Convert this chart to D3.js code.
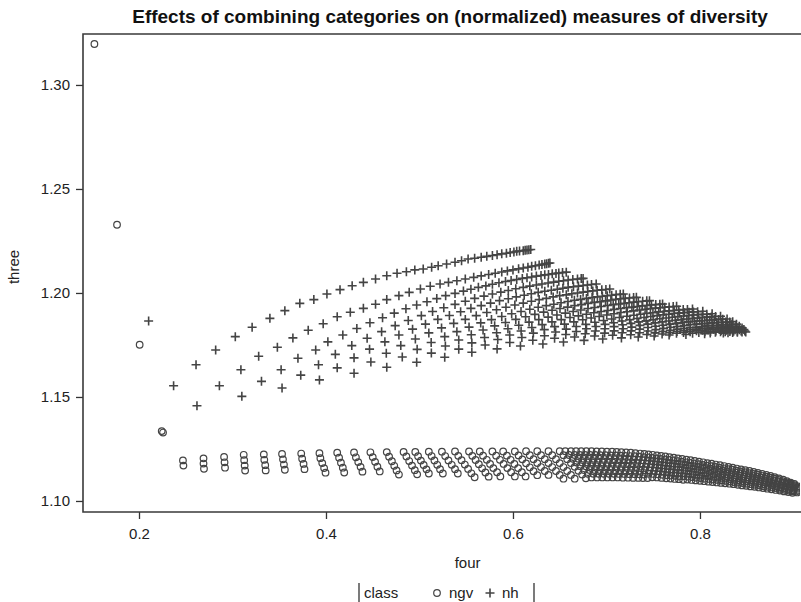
<!DOCTYPE html>
<html>
<head>
<meta charset="utf-8">
<script src="https://cdn.jsdelivr.net/npm/d3@7"></script>
<style>
  body { margin: 0; background: #fff; }
  text { font-family: "Liberation Sans", Arial, sans-serif; fill: #222; }
</style>
</head>
<body>
<svg width="801" height="602"></svg>
<script>
// ---- data: [four, three] ----
var xTicks = [0.2, 0.4, 0.6, 0.8];
var yTicks = [1.10, 1.15, 1.20, 1.25, 1.30];

// class = nh (plus markers), read curve by curve
var nhLone = [[0.2103,1.1865]];
var nhA = [[0.237,1.1554],[0.261,1.1655],[0.282,1.1726],[0.303,1.1790],[0.321,1.1835],[0.340,1.1878],[0.356,1.1915],[0.372,1.1950],[0.387,1.1968],[0.401,1.1995],[0.415,1.2016],[0.428,1.2035],[0.440,1.2051],[0.453,1.2067],[0.465,1.2083],[0.476,1.2095],[0.486,1.2102],[0.495,1.2111],[0.504,1.2115],[0.513,1.2124],[0.520,1.2131],[0.529,1.2139],[0.538,1.2148],[0.545,1.2155],[0.552,1.2163],[0.559,1.2167],[0.566,1.2172],[0.572,1.2176],[0.578,1.2180],[0.583,1.2184],[0.588,1.2188],[0.593,1.2191],[0.597,1.2194],[0.601,1.2197],[0.604,1.2200],[0.607,1.2202],[0.611,1.2203],[0.613,1.2205],[0.615,1.2207],[0.617,1.2208],[0.619,1.2209]];
var nhB = [[0.262,1.1458],[0.286,1.1554],[0.309,1.1631],[0.328,1.1696],[0.348,1.1739],[0.3646,1.1784],[0.381,1.1821],[0.397,1.1852],[0.412,1.1886],[0.426,1.1907],[0.440,1.1926],[0.453,1.1946],[0.465,1.1968],[0.478,1.1987],[0.489,1.2003],[0.501,1.2019],[0.5115,1.2032],[0.522,1.2043],[0.531,1.2051],[0.540,1.2059],[0.549,1.2067],[0.558,1.2075],[0.566,1.2082],[0.574,1.2089],[0.581,1.2095],[0.588,1.2101],[0.594,1.2106],[0.600,1.2111],[0.606,1.2116],[0.611,1.2120],[0.616,1.2124],[0.620,1.2128],[0.624,1.2131],[0.628,1.2134],[0.631,1.2137],[0.634,1.2139],[0.636,1.2141],[0.638,1.2143],[0.6395,1.2144]];
var nhC = [[0.310,1.1503],[0.331,1.1575],[0.352,1.1631],[0.370,1.1686],[0.389,1.1726],[0.402,1.1765],[0.418,1.1798],[0.433,1.1829],[0.447,1.1857],[0.4605,1.1881],[0.473,1.1903],[0.4855,1.1924],[0.497,1.1942],[0.508,1.1958],[0.5185,1.1973],[0.528,1.1987],[0.538,1.1998],[0.547,1.2009],[0.555,1.2018],[0.563,1.2027],[0.571,1.2034],[0.578,1.2042],[0.585,1.2049],[0.592,1.2055],[0.598,1.2060],[0.604,1.2065],[0.610,1.2070],[0.615,1.2073],[0.620,1.2077],[0.625,1.2081],[0.630,1.2084],[0.634,1.2087],[0.638,1.2089],[0.642,1.2092],[0.646,1.2094],[0.649,1.2096],[0.653,1.2098],[0.657,1.2100]];
var nhD = [[0.353,1.1543],[0.373,1.1605],[0.392,1.1655],[0.410,1.1705],[0.4276,1.1747],[0.444,1.1782],[0.4595,1.1814],[0.474,1.1843],[0.488,1.1868],[0.502,1.1891],[0.514,1.1911],[0.526,1.1929],[0.538,1.1945],[0.549,1.1960],[0.559,1.1974],[0.569,1.1985],[0.578,1.1995],[0.587,1.2004],[0.595,1.2012],[0.603,1.2020],[0.611,1.2027],[0.618,1.2033],[0.625,1.2038],[0.631,1.2043],[0.6376,1.2048],[0.6435,1.2052],[0.649,1.2056],[0.654,1.2059],[0.659,1.2062],[0.664,1.2065],[0.669,1.2067],[0.673,1.2069],[0.675,1.2070]];
var nhE = [[0.393,1.1582],[0.412,1.1640],[0.430,1.1688],[0.4466,1.1730],[0.463,1.1765],[0.478,1.1798],[0.4926,1.1826],[0.5064,1.1850],[0.5196,1.1873],[0.532,1.1892],[0.544,1.1910],[0.555,1.1926],[0.566,1.1939],[0.576,1.1951],[0.5856,1.1963],[0.595,1.1972],[0.6035,1.1981],[0.612,1.1989],[0.6196,1.1996],[0.627,1.2003],[0.634,1.2008],[0.641,1.2013],[0.6474,1.2018],[0.6534,1.2023],[0.659,1.2027],[0.6647,1.2030],[0.670,1.2033],[0.675,1.2036],[0.6796,1.2038],[0.684,1.2041],[0.689,1.2043]];
var nhF = [[0.430,1.1614],[0.448,1.1668],[0.4645,1.1710],[0.480,1.1747],[0.4956,1.1779],[0.510,1.1808],[0.5236,1.1832],[0.5366,1.1854],[0.549,1.1873],[0.5607,1.1891],[0.572,1.1906],[0.5824,1.1919],[0.5925,1.1931],[0.602,1.1942],[0.611,1.1951],[0.6197,1.1960],[0.628,1.1968],[0.6357,1.1974],[0.643,1.1981],[0.650,1.1987],[0.657,1.1991],[0.663,1.1996],[0.669,1.2000],[0.675,1.2004],[0.680,1.2007],[0.6854,1.2010],[0.690,1.2013],[0.695,1.2015],[0.6994,1.2017],[0.7035,1.2019]];
var nhG = [[0.465,1.1643],[0.4816,1.1692],[0.4975,1.1729],[0.5125,1.1762],[0.527,1.1790],[0.540,1.1814],[0.553,1.1836],[0.5655,1.1856],[0.577,1.1872],[0.588,1.1887],[0.5986,1.1900],[0.6086,1.1911],[0.618,1.1922],[0.627,1.1931],[0.6356,1.1939],[0.6437,1.1946],[0.6514,1.1953],[0.6588,1.1959],[0.6657,1.1965],[0.6723,1.1969],[0.6786,1.1974],[0.6846,1.1978],[0.6903,1.1981],[0.6956,1.1984],[0.7008,1.1987],[0.7056,1.1989],[0.7103,1.1992],[0.7147,1.1994],[0.718,1.1995]];
var nhH = [[0.497,1.1667],[0.5127,1.1711],[0.5277,1.1745],[0.542,1.1774],[0.5554,1.1799],[0.568,1.1822],[0.5804,1.1842],[0.592,1.1858],[0.603,1.1873],[0.6135,1.1886],[0.6234,1.1897],[0.6328,1.1908],[0.6418,1.1917],[0.6503,1.1925],[0.6584,1.1932],[0.666,1.1939],[0.6734,1.1944],[0.6803,1.1950],[0.6869,1.1955],[0.6931,1.1958],[0.699,1.1962],[0.7047,1.1966],[0.710,1.1969],[0.7152,1.1972],[0.720,1.1974],[0.7246,1.1976],[0.729,1.1978],[0.732,1.1979]];
var nhI = [[0.527,1.1691],[0.542,1.1730],[0.556,1.1760],[0.5696,1.1786],[0.5825,1.1809],[0.5946,1.1828],[0.6062,1.1845],[0.6172,1.1860],[0.6276,1.1872],[0.6376,1.1884],[0.647,1.1894],[0.656,1.1903],[0.6644,1.1911],[0.6725,1.1918],[0.6802,1.1925],[0.6875,1.1930],[0.6944,1.1935],[0.701,1.1940],[0.7072,1.1944],[0.7132,1.1947],[0.7188,1.1950],[0.7242,1.1953],[0.7293,1.1956],[0.7341,1.1958],[0.7387,1.1960],[0.7431,1.1962],[0.746,1.1963]];
var nhJ = [[0.556,1.1715],[0.5702,1.1750],[0.5837,1.1776],[0.5965,1.1798],[0.6087,1.1817],[0.6202,1.1834],[0.6312,1.1848],[0.6417,1.1861],[0.6516,1.1872],[0.661,1.1882],[0.670,1.1890],[0.6785,1.1898],[0.6865,1.1905],[0.6942,1.1911],[0.7015,1.1916],[0.7084,1.1921],[0.715,1.1925],[0.7213,1.1929],[0.7272,1.1932],[0.7328,1.1935],[0.7382,1.1938],[0.7433,1.1940],[0.7481,1.1942],[0.7527,1.1944],[0.7571,1.1946],[0.760,1.1947]];
var nhK = [[0.583,1.1731],[0.5966,1.1762],[0.6095,1.1786],[0.6218,1.1807],[0.6335,1.1824],[0.6445,1.1838],[0.6551,1.1850],[0.6651,1.1861],[0.6746,1.1871],[0.6836,1.1880],[0.6922,1.1887],[0.7003,1.1894],[0.708,1.1900],[0.7154,1.1906],[0.7223,1.1910],[0.729,1.1914],[0.7353,1.1918],[0.7413,1.1922],[0.747,1.1925],[0.7524,1.1927],[0.7575,1.1929],[0.7624,1.1931],[0.767,1.1933],[0.7714,1.1935],[0.775,1.1936]];
var nhL = [[0.608,1.1745],[0.6212,1.1773],[0.6337,1.1794],[0.6456,1.1812],[0.657,1.1826],[0.6677,1.1839],[0.6779,1.1849],[0.6876,1.1859],[0.6969,1.1868],[0.7056,1.1875],[0.7139,1.1882],[0.7218,1.1888],[0.7293,1.1893],[0.7365,1.1898],[0.7432,1.1902],[0.7497,1.1905],[0.7558,1.1909],[0.7616,1.1911],[0.7671,1.1914],[0.7724,1.1916],[0.7774,1.1918],[0.7821,1.1920],[0.7866,1.1921],[0.792,1.1923]];
var nhM = [[0.632,1.1755],[0.6445,1.1782],[0.6565,1.1800],[0.6678,1.1815],[0.6786,1.1828],[0.6888,1.1839],[0.6985,1.1849],[0.7077,1.1857],[0.7165,1.1865],[0.7248,1.1871],[0.7327,1.1877],[0.7402,1.1882],[0.7474,1.1887],[0.7542,1.1891],[0.7606,1.1895],[0.7667,1.1898],[0.7725,1.1901],[0.7781,1.1903],[0.7833,1.1905],[0.7883,1.1907],[0.793,1.1909],[0.7975,1.1910],[0.803,1.1912]];
var nhN = [[0.654,1.1764],[0.6659,1.1788],[0.6773,1.1804],[0.6881,1.1817],[0.6983,1.1828],[0.7081,1.1838],[0.7173,1.1847],[0.7261,1.1854],[0.7344,1.1861],[0.7424,1.1866],[0.7499,1.1871],[0.7571,1.1876],[0.7638,1.1880],[0.7703,1.1883],[0.7764,1.1887],[0.7823,1.1889],[0.7878,1.1892],[0.7931,1.1894],[0.7981,1.1896],[0.8028,1.1897],[0.8073,1.1898],[0.813,1.1900]];
var nhO = [[0.676,1.1772],[0.6873,1.1793],[0.698,1.1807],[0.7082,1.1818],[0.7179,1.1828],[0.7271,1.1836],[0.7359,1.1844],[0.7442,1.1850],[0.7521,1.1856],[0.7596,1.1861],[0.7667,1.1865],[0.7735,1.1869],[0.7799,1.1872],[0.786,1.1875],[0.7918,1.1878],[0.7973,1.1880],[0.8025,1.1882],[0.8075,1.1884],[0.8122,1.1885],[0.8167,1.1887],[0.822,1.1888]];
var nhP = [[0.696,1.1779],[0.7066,1.1797],[0.7168,1.1809],[0.7264,1.1818],[0.7355,1.1826],[0.7442,1.1834],[0.7524,1.1840],[0.7603,1.1845],[0.7677,1.1850],[0.7748,1.1854],[0.7815,1.1858],[0.7878,1.1861],[0.7939,1.1864],[0.7997,1.1866],[0.8051,1.1868],[0.8103,1.1870],[0.8153,1.1872],[0.820,1.1873],[0.8244,1.1874],[0.829,1.1875]];
var nhQ = [[0.716,1.1784],[0.7259,1.1799],[0.7354,1.1809],[0.7444,1.1817],[0.7529,1.1824],[0.761,1.1830],[0.7687,1.1835],[0.776,1.1839],[0.783,1.1843],[0.7896,1.1847],[0.7959,1.1850],[0.8018,1.1852],[0.8075,1.1854],[0.8129,1.1856],[0.8179,1.1858],[0.8228,1.1859],[0.8274,1.1860],[0.8318,1.1861],[0.835,1.1862]];
var nhR = [[0.734,1.1788],[0.7432,1.1800],[0.752,1.1808],[0.7604,1.1815],[0.7683,1.1821],[0.7758,1.1826],[0.783,1.1830],[0.7898,1.1833],[0.7963,1.1836],[0.8024,1.1839],[0.8082,1.1842],[0.8138,1.1843],[0.819,1.1845],[0.824,1.1847],[0.8288,1.1848],[0.8333,1.1849],[0.839,1.1850]];
var nhS = [[0.751,1.1793],[0.7595,1.1803],[0.7677,1.1809],[0.7754,1.1815],[0.7827,1.1819],[0.7897,1.1823],[0.7963,1.1826],[0.8026,1.1829],[0.8086,1.1831],[0.8142,1.1833],[0.8196,1.1835],[0.8247,1.1836],[0.8296,1.1838],[0.8342,1.1839],[0.8386,1.1839],[0.842,1.1840]];
var nhT = [[0.767,1.1798],[0.7749,1.1806],[0.7824,1.1810],[0.7895,1.1814],[0.7963,1.1818],[0.8027,1.1821],[0.8089,1.1823],[0.8147,1.1825],[0.8202,1.1827],[0.8254,1.1828],[0.8304,1.1829],[0.8351,1.1830],[0.8396,1.1831],[0.845,1.1832]];
var nhU = [[0.785,1.1800],[0.7921,1.1806],[0.7988,1.1810],[0.8052,1.1813],[0.8113,1.1815],[0.8171,1.1817],[0.8226,1.1819],[0.8278,1.1820],[0.8328,1.1822],[0.8375,1.1823],[0.842,1.1823],[0.847,1.1824]];
var nhV = [[0.805,1.1804],[0.811,1.1808],[0.8165,1.1811],[0.822,1.1813],[0.827,1.1814],[0.832,1.1815],[0.836,1.1816],[0.840,1.1816],[0.844,1.1817],[0.848,1.1817]];
var nhW = [[0.825,1.1807],[0.830,1.1809],[0.835,1.1810],[0.840,1.1811],[0.845,1.1812],[0.849,1.1812]];

// class = ngv (circle markers)
var ngvLead = [[0.1523,1.3197],[0.1765,1.2328],[0.2007,1.1751],[0.2243,1.1336],[0.2257,1.1329]];
var ngvLeft = [
  [0.247,1.1195],[0.2475,1.1170],
  [0.269,1.1205],[0.269,1.1180],[0.2695,1.1155],
  [0.291,1.1212],[0.2915,1.1186],[0.292,1.1160],
  [0.312,1.1222],[0.3125,1.1196],[0.313,1.1170],[0.3135,1.1146],
  [0.3335,1.1224],[0.334,1.1198],[0.335,1.1172],[0.3355,1.1147],
  [0.353,1.1226],[0.354,1.1200],[0.355,1.1175],[0.356,1.1150],
  [0.3735,1.1228],[0.3745,1.1203],[0.376,1.1178],[0.377,1.1153],
  [0.393,1.1230],[0.394,1.1206],[0.396,1.1182],[0.398,1.1158],[0.3995,1.1136],
  [0.412,1.1232],[0.414,1.1208],[0.416,1.1184],[0.418,1.1160],[0.4195,1.1137],
  [0.430,1.1233],[0.432,1.1210],[0.4345,1.1187],[0.437,1.1164],[0.439,1.1141],
  [0.4475,1.1234],[0.450,1.1211],[0.4525,1.1188],[0.455,1.1165],[0.4575,1.1142]
];
var ngvMid = [
  [0.465,1.1235],[0.4675,1.1213],[0.4705,1.1191],[0.473,1.1169],[0.4755,1.1147],[0.478,1.1127],
  [0.483,1.1236],[0.486,1.1214],[0.489,1.1192],[0.492,1.1170],[0.495,1.1148],[0.4975,1.1128],
  [0.4955,1.1236],[0.4985,1.1215],[0.5015,1.1194],[0.5045,1.1173],[0.5075,1.1152],[0.510,1.1132],
  [0.510,1.1237],[0.513,1.1216],[0.516,1.1195],[0.519,1.1174],[0.522,1.1153],[0.525,1.1132],
  [0.524,1.1237],[0.5275,1.1216],[0.531,1.1195],[0.5345,1.1174],[0.538,1.1153],[0.541,1.1132],
  [0.538,1.1238],[0.5415,1.1217],[0.545,1.1196],[0.5485,1.1175],[0.552,1.1154],[0.5555,1.1133],[0.559,1.1114],
  [0.553,1.1238],[0.5565,1.1217],[0.560,1.1197],[0.5635,1.1177],[0.567,1.1157],[0.5705,1.1137],[0.574,1.1117],
  [0.5645,1.1238],[0.568,1.1218],[0.572,1.1198],[0.5755,1.1178],[0.579,1.1158],[0.583,1.1138],[0.5865,1.1118],
  [0.578,1.1238],[0.582,1.1218],[0.586,1.1198],[0.590,1.1178],[0.594,1.1158],[0.598,1.1138],[0.602,1.1118],
  [0.5895,1.1238],[0.5935,1.1218],[0.5975,1.1198],[0.6015,1.1178],[0.6055,1.1158],[0.6095,1.1138],[0.6135,1.1118],
  [0.602,1.1238],[0.606,1.1219],[0.610,1.1200],[0.614,1.1181],[0.618,1.1162],[0.622,1.1143],[0.626,1.1124],
  [0.614,1.1239],[0.618,1.1220],[0.622,1.1201],[0.626,1.1182],[0.630,1.1163],[0.634,1.1144],[0.638,1.1125],
  [0.626,1.1239],[0.630,1.1220],[0.634,1.1201],[0.638,1.1182],[0.642,1.1163],[0.646,1.1144],[0.650,1.1125],[0.654,1.1107],
  [0.638,1.1239],[0.642,1.1220],[0.646,1.1201],[0.650,1.1182],[0.654,1.1163],[0.658,1.1144],[0.662,1.1125],[0.666,1.1107],
  [0.650,1.1239],[0.654,1.1220],[0.658,1.1201],[0.662,1.1182],[0.666,1.1164],[0.670,1.1145],[0.674,1.1127],[0.678,1.1109],
  [0.656,1.1239],[0.660,1.1221],[0.664,1.1203],[0.668,1.1185],[0.672,1.1167],[0.676,1.1149],[0.680,1.1131],[0.684,1.1113],
  [0.662,1.1239],[0.666,1.1221],[0.670,1.1203],[0.674,1.1185],[0.678,1.1167],[0.682,1.1149],[0.686,1.1131],[0.690,1.1113],
  [0.6675,1.1239],[0.6715,1.1221],[0.6755,1.1203],[0.6795,1.1185],[0.6835,1.1167],[0.6875,1.1149],[0.6915,1.1131],[0.6955,1.1113],
  [0.673,1.1239],[0.677,1.1221],[0.681,1.1203],[0.685,1.1185],[0.689,1.1167],[0.693,1.1149],[0.697,1.1131],[0.701,1.1113],
  [0.6785,1.1239],[0.6825,1.1221],[0.6865,1.1203],[0.6905,1.1185],[0.6945,1.1167],[0.6985,1.1149],[0.7025,1.1131],[0.7065,1.1113],
  [0.684,1.1239],[0.688,1.1221],[0.692,1.1203],[0.696,1.1185],[0.700,1.1167],[0.704,1.1149],[0.708,1.1131],[0.712,1.1113],
  [0.6895,1.1238],[0.6935,1.1220],[0.6975,1.1202],[0.7015,1.1184],[0.7055,1.1166],[0.7095,1.1148],[0.7135,1.1130],[0.7175,1.1112],
  [0.695,1.1238],[0.699,1.1220],[0.703,1.1202],[0.707,1.1184],[0.711,1.1166],[0.715,1.1148],[0.719,1.1130],[0.723,1.1112],
  [0.7005,1.1237],[0.7045,1.1219],[0.7085,1.1201],[0.7125,1.1183],[0.7165,1.1165],[0.7205,1.1147],[0.7245,1.1129],[0.7285,1.1111],
  [0.706,1.1237],[0.710,1.1219],[0.714,1.1201],[0.718,1.1183],[0.722,1.1165],[0.726,1.1147],[0.730,1.1129],[0.734,1.1111],
  [0.711,1.1236],[0.715,1.1218],[0.719,1.1200],[0.723,1.1182],[0.727,1.1164],[0.731,1.1146],[0.735,1.1128],[0.739,1.1110],
  [0.716,1.1235],[0.720,1.1217],[0.724,1.1199],[0.728,1.1181],[0.732,1.1163],[0.736,1.1145],[0.740,1.1127],[0.744,1.1110],
  [0.721,1.1233],[0.725,1.1216],[0.729,1.1199],[0.733,1.1182],[0.737,1.1165],[0.741,1.1148],[0.745,1.1131],[0.749,1.1114],
  [0.726,1.1232],[0.730,1.1215],[0.734,1.1198],[0.738,1.1181],[0.742,1.1164],[0.746,1.1147],[0.750,1.1130],[0.754,1.1113],
  [0.731,1.1230],[0.735,1.1213],[0.739,1.1196],[0.743,1.1179],[0.747,1.1162],[0.751,1.1145],[0.755,1.1128],[0.759,1.1111]
];
var ngvRight = [
  [0.736,1.1228],[0.740,1.1211],[0.744,1.1194],[0.748,1.1177],[0.752,1.1160],[0.756,1.1143],[0.760,1.1126],[0.764,1.1109],
  [0.7405,1.1226],[0.7445,1.1209],[0.7485,1.1192],[0.7525,1.1175],[0.7565,1.1158],[0.7605,1.1141],[0.7645,1.1124],[0.7685,1.1108],
  [0.745,1.1224],[0.749,1.1207],[0.753,1.1190],[0.757,1.1173],[0.761,1.1156],[0.765,1.1139],[0.769,1.1122],[0.773,1.1106],
  [0.7495,1.1222],[0.7535,1.1205],[0.7575,1.1188],[0.7615,1.1171],[0.7655,1.1154],[0.7695,1.1137],[0.7735,1.1121],[0.7775,1.1105],
  [0.754,1.1219],[0.758,1.1202],[0.762,1.1185],[0.766,1.1168],[0.770,1.1151],[0.774,1.1134],[0.778,1.1118],[0.782,1.1102],
  [0.7585,1.1217],[0.7625,1.1200],[0.7665,1.1183],[0.7705,1.1167],[0.7745,1.1151],[0.7785,1.1135],[0.7825,1.1119],[0.7865,1.1103],
  [0.763,1.1214],[0.767,1.1197],[0.771,1.1181],[0.775,1.1165],[0.779,1.1149],[0.783,1.1133],[0.787,1.1117],[0.791,1.1101],
  [0.7675,1.1211],[0.7715,1.1195],[0.7755,1.1179],[0.7795,1.1163],[0.7835,1.1147],[0.7875,1.1131],[0.7915,1.1115],[0.7955,1.1099],
  [0.772,1.1208],[0.776,1.1192],[0.780,1.1176],[0.784,1.1160],[0.788,1.1144],[0.792,1.1128],[0.796,1.1112],[0.800,1.1097],
  [0.7765,1.1205],[0.7805,1.1189],[0.7845,1.1173],[0.7885,1.1157],[0.7925,1.1141],[0.7965,1.1125],[0.8005,1.1110],[0.8045,1.1095],
  [0.781,1.1202],[0.785,1.1186],[0.789,1.1170],[0.793,1.1154],[0.797,1.1138],[0.801,1.1122],[0.805,1.1107],[0.809,1.1093],
  [0.7855,1.1199],[0.7895,1.1183],[0.7935,1.1167],[0.7975,1.1151],[0.8015,1.1136],[0.8055,1.1121],[0.8095,1.1106],[0.8135,1.1091],
  [0.790,1.1196],[0.794,1.1180],[0.798,1.1164],[0.802,1.1148],[0.806,1.1133],[0.810,1.1118],[0.814,1.1103],[0.818,1.1089],
  [0.7945,1.1193],[0.7985,1.1177],[0.8025,1.1161],[0.8065,1.1146],[0.8105,1.1131],[0.8145,1.1116],[0.8185,1.1101],[0.8225,1.1087],
  [0.799,1.1189],[0.803,1.1173],[0.807,1.1158],[0.811,1.1143],[0.815,1.1128],[0.819,1.1113],[0.823,1.1099],[0.827,1.1085],
  [0.8035,1.1186],[0.8075,1.1170],[0.8115,1.1155],[0.8155,1.1140],[0.8195,1.1125],[0.8235,1.1111],[0.8275,1.1097],[0.8315,1.1083],
  [0.808,1.1182],[0.812,1.1167],[0.816,1.1152],[0.820,1.1137],[0.824,1.1122],[0.828,1.1108],[0.832,1.1094],[0.836,1.1081],
  [0.8125,1.1179],[0.8165,1.1164],[0.8205,1.1149],[0.8245,1.1134],[0.8285,1.1119],[0.8325,1.1105],[0.8365,1.1091],[0.8405,1.1078],
  [0.817,1.1175],[0.821,1.1160],[0.825,1.1145],[0.829,1.1130],[0.833,1.1116],[0.837,1.1102],[0.841,1.1088],[0.845,1.1075],
  [0.8215,1.1172],[0.8255,1.1157],[0.8295,1.1142],[0.8335,1.1127],[0.8375,1.1113],[0.8415,1.1099],[0.8455,1.1086],[0.8495,1.1073],
  [0.826,1.1168],[0.830,1.1153],[0.834,1.1138],[0.838,1.1124],[0.842,1.1110],[0.846,1.1096],[0.850,1.1083],[0.854,1.1070],
  [0.8305,1.1164],[0.8345,1.1150],[0.8385,1.1136],[0.8425,1.1122],[0.8465,1.1108],[0.8505,1.1094],[0.8545,1.1081],[0.8585,1.1068],
  [0.835,1.1160],[0.839,1.1146],[0.843,1.1132],[0.847,1.1118],[0.851,1.1104],[0.855,1.1091],[0.859,1.1078],[0.863,1.1065],
  [0.8395,1.1156],[0.8435,1.1142],[0.8475,1.1128],[0.8515,1.1114],[0.8555,1.1101],[0.8595,1.1088],[0.8635,1.1075],[0.8675,1.1062],
  [0.844,1.1152],[0.848,1.1138],[0.852,1.1124],[0.856,1.1110],[0.860,1.1097],[0.864,1.1084],[0.868,1.1071],[0.872,1.1059],
  [0.8485,1.1148],[0.8525,1.1134],[0.8565,1.1120],[0.8605,1.1107],[0.8645,1.1094],[0.8685,1.1081],[0.8725,1.1068],[0.8765,1.1056],
  [0.853,1.1144],[0.857,1.1130],[0.861,1.1116],[0.865,1.1103],[0.869,1.1090],[0.873,1.1077],[0.877,1.1065],[0.881,1.1053],
  [0.8575,1.1140],[0.8615,1.1126],[0.8655,1.1112],[0.8695,1.1099],[0.8735,1.1086],[0.8775,1.1074],[0.8815,1.1062],[0.8855,1.1050],
  [0.862,1.1135],[0.866,1.1121],[0.870,1.1108],[0.874,1.1095],[0.878,1.1082],[0.882,1.1070],[0.886,1.1058],[0.890,1.1046],
  [0.8665,1.1130],[0.8705,1.1117],[0.8745,1.1104],[0.8785,1.1091],[0.8825,1.1078],[0.8865,1.1066],[0.8905,1.1054],[0.8945,1.1043],
  [0.871,1.1125],[0.875,1.1112],[0.879,1.1099],[0.883,1.1086],[0.887,1.1074],[0.891,1.1062],[0.895,1.1050],[0.899,1.1039],
  [0.8755,1.1120],[0.8795,1.1107],[0.8835,1.1094],[0.8875,1.1081],[0.8915,1.1069],[0.8955,1.1057],[0.8995,1.1046],
  [0.880,1.1114],[0.884,1.1101],[0.888,1.1088],[0.892,1.1076],[0.896,1.1064],[0.900,1.1052],[0.904,1.1041],
  [0.8845,1.1108],[0.8885,1.1095],[0.8925,1.1083],[0.8965,1.1071],[0.9005,1.1059],[0.9045,1.1048],
  [0.889,1.1102],[0.893,1.1089],[0.897,1.1077],[0.901,1.1065],[0.905,1.1053],
  [0.893,1.1095],[0.897,1.1083],[0.901,1.1071],[0.905,1.1059],
  [0.897,1.1088],[0.901,1.1076],[0.905,1.1064],
  [0.901,1.1082],[0.905,1.1070]
];

var nhAll = [].concat(nhLone, nhA, nhB, nhC, nhD, nhE, nhF, nhG, nhH, nhI, nhJ, nhK, nhL,
  nhM, nhN, nhO, nhP, nhQ, nhR, nhS, nhT, nhU, nhV, nhW);
var ngvAll = [].concat(ngvLead, ngvLeft, ngvMid, ngvRight);

// ---- layout ----
var svg = d3.select("svg"),
  margin = {top: 34, right: 1, bottom: 90, left: 83},
  width = +svg.attr("width") - margin.left - margin.right,
  height = +svg.attr("height") - margin.top - margin.bottom,
  g = svg.append("g").attr("transform", "translate(" + margin.left + "," + margin.top + ")");

var markColor = "#444";

var x = d3.scaleLinear()
  .domain([0.1401, 0.9070])
  .range([0, width]);

var y = d3.scaleLinear()
  .domain([1.0947, 1.3245])
  .range([height, 0]);

svg.append("text")
  .attr("x", 450)
  .attr("y", 23)
  .attr("text-anchor", "middle")
  .style("font-size", "19px")
  .style("font-weight", "bold")
  .style("fill", "#111")
  .text("Effects of combining categories on (normalized) measures of diversity");

// axes
var xAxis = g.append("g")
  .attr("transform", "translate(0," + height + ")")
  .call(d3.axisBottom(x).tickValues(xTicks).tickFormat(d3.format(".1f")).tickSize(7).tickPadding(9));

var yAxis = g.append("g")
  .call(d3.axisLeft(y).tickValues(yTicks).tickFormat(d3.format(".2f")).tickSize(7).tickPadding(6));

[xAxis, yAxis].forEach(function (a) {
  a.select(".domain").remove();
  a.selectAll(".tick line").attr("stroke", "#333").attr("stroke-width", 1.3);
  a.selectAll(".tick text").style("font-size", "15px").style("font-family", "'Liberation Sans', Arial, sans-serif").attr("fill", "#222");
});

g.append("text")
  .attr("x", x(0.5515))
  .attr("y", height + 56)
  .attr("text-anchor", "middle")
  .style("font-size", "15px")
  .text("four");

svg.append("text")
  .attr("transform", "translate(19," + 267 + ") rotate(-90)")
  .attr("text-anchor", "middle")
  .style("font-size", "15px")
  .text("three");

// marks
svg.append("clipPath").attr("id", "plotclip")
  .append("rect").attr("width", width).attr("height", height);

var marks = g.append("g").attr("clip-path", "url(#plotclip)");

marks.selectAll(".ngv")
  .data(ngvAll)
  .enter().append("circle")
  .attr("class", "ngv")
  .attr("cx", function (d) { return x(d[0]); })
  .attr("cy", function (d) { return y(d[1]); })
  .attr("r", 3.3)
  .attr("fill", "none")
  .attr("stroke", markColor)
  .attr("stroke-width", 1.2);

marks.selectAll(".nh")
  .data(nhAll)
  .enter().append("path")
  .attr("class", "nh")
  .attr("transform", function (d) { return "translate(" + x(d[0]) + "," + y(d[1]) + ")"; })
  .attr("d", "M-4.5,0H4.5M0,-4.5V4.5")
  .attr("stroke", markColor)
  .attr("stroke-width", 1.6);

// frame: top, left and bottom (the right side runs off the picture)
g.append("path")
  .attr("d", "M" + (width + 1) + ",0H0V" + height + "H" + (width + 1))
  .attr("fill", "none")
  .attr("stroke", "#3a3a3a")
  .attr("stroke-width", 1.6);

// legend
var leg = svg.append("g").attr("transform", "translate(0,583)");
leg.append("line").attr("x1", 359).attr("x2", 359).attr("y1", 0).attr("y2", 19).attr("stroke", "#333").attr("stroke-width", 1.3);
leg.append("line").attr("x1", 534).attr("x2", 534).attr("y1", 0).attr("y2", 19).attr("stroke", "#333").attr("stroke-width", 1.3);
leg.append("text").attr("x", 364).attr("y", 15).style("font-size", "15px").text("class");
leg.append("circle").attr("cx", 437).attr("cy", 10).attr("r", 3.3)
  .attr("fill", "none").attr("stroke", markColor).attr("stroke-width", 1.2);
leg.append("text").attr("x", 449).attr("y", 15).style("font-size", "15px").text("ngv");
leg.append("path").attr("transform", "translate(490,10)").attr("d", "M-4.5,0H4.5M0,-4.5V4.5")
  .attr("stroke", markColor).attr("stroke-width", 1.6);
leg.append("text").attr("x", 502).attr("y", 15).style("font-size", "15px").text("nh");
</script>
</body>
</html>
